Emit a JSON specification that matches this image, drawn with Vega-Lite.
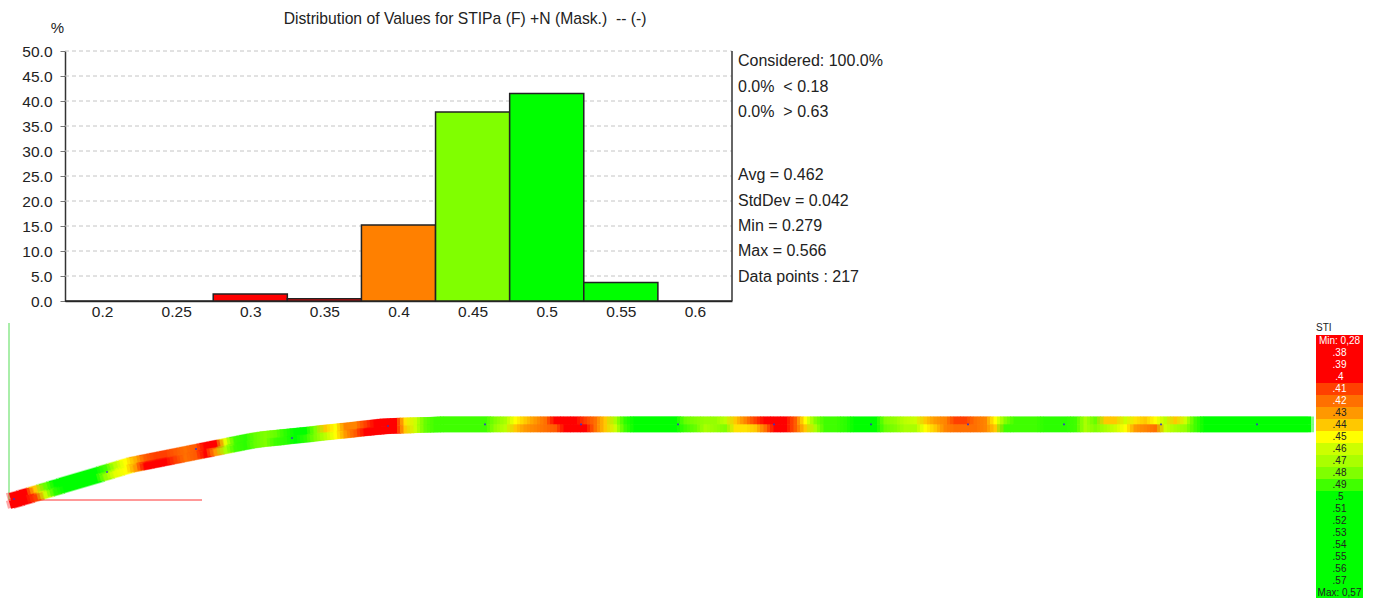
{"$schema":"https://vega.github.io/schema/vega-lite/v6.json","width":1376,"height":598,"autosize":{"type":"none"},"padding":0,"background":"white",
"title":{"text":"Distribution of Values for STIPa (F) +N (Mask.)\u00a0\u00a0-- (-)","anchor":"start","align":"center","frame":"group","dx":465,"dy":35,"offset":0,"baseline":"middle","font":"Liberation Sans","fontSize":15.7,"fontWeight":"normal","color":"#222"},
"config":{"view":{"stroke":null},"text":{"font":"Liberation Sans"}},
"datasets":{
"hist":[{"bin":"0.2","from":0.175,"to":0.225,"pct":0},{"bin":"0.25","from":0.225,"to":0.275,"pct":0},{"bin":"0.3","from":0.275,"to":0.325,"pct":1.38},{"bin":"0.35","from":0.325,"to":0.375,"pct":0.46},{"bin":"0.4","from":0.375,"to":0.425,"pct":15.2},{"bin":"0.45","from":0.425,"to":0.475,"pct":37.8},{"bin":"0.5","from":0.475,"to":0.525,"pct":41.5},{"bin":"0.55","from":0.525,"to":0.575,"pct":3.7},{"bin":"0.6","from":0.575,"to":0.625,"pct":0}],
"grid":[{"v":5},{"v":10},{"v":15},{"v":20},{"v":25},{"v":30},{"v":35},{"v":40},{"v":45},{"v":50}],
"notes":[{"t":"Considered: 100.0%","v":48},{"t":"0.0%\u00a0\u00a0< 0.18","v":42.8},{"t":"0.0%\u00a0\u00a0> 0.63","v":37.8},{"t":"Avg = 0.462","v":25.2},{"t":"StdDev = 0.042","v":20},{"t":"Min = 0.279","v":15},{"t":"Max = 0.566","v":10},{"t":"Data points : 217","v":4.8}],
"strip":[
{"x0":0.5,"y0":5.04,"x1":1.05,"y1":5.19,"sti":0.38},{"x0":0.5,"y0":4.66,"x1":1.05,"y1":4.81,"sti":0.38},
{"x0":1,"y0":5.19,"x1":1.55,"y1":5.34,"sti":0.39},{"x0":1,"y0":4.81,"x1":1.55,"y1":4.96,"sti":0.38},
{"x0":1.5,"y0":5.34,"x1":2.05,"y1":5.49,"sti":0.44},{"x0":1.5,"y0":4.96,"x1":2.05,"y1":5.11,"sti":0.41},
{"x0":2,"y0":5.49,"x1":2.55,"y1":5.64,"sti":0.485},{"x0":2,"y0":5.11,"x1":2.55,"y1":5.26,"sti":0.46},
{"x0":2.5,"y0":5.64,"x1":3.05,"y1":5.79,"sti":0.5},{"x0":2.5,"y0":5.26,"x1":3.05,"y1":5.41,"sti":0.495},
{"x0":3,"y0":5.79,"x1":5.05,"y1":6.39,"sti":0.51},{"x0":3,"y0":5.41,"x1":5.05,"y1":6.01,"sti":0.51},
{"x0":5,"y0":6.39,"x1":5.55,"y1":6.54,"sti":0.49},{"x0":5,"y0":6.01,"x1":5.55,"y1":6.16,"sti":0.475},
{"x0":5.5,"y0":6.54,"x1":6.05,"y1":6.69,"sti":0.465},{"x0":5.5,"y0":6.16,"x1":6.05,"y1":6.31,"sti":0.455},
{"x0":6,"y0":6.69,"x1":6.55,"y1":6.84,"sti":0.45},{"x0":6,"y0":6.31,"x1":6.55,"y1":6.46,"sti":0.45},
{"x0":6.5,"y0":6.84,"x1":7.05,"y1":6.94,"sti":0.435},{"x0":6.5,"y0":6.46,"x1":7.05,"y1":6.56,"sti":0.43},
{"x0":7,"y0":6.94,"x1":7.55,"y1":7.04,"sti":0.415},{"x0":7,"y0":6.56,"x1":7.55,"y1":6.66,"sti":0.4},
{"x0":7.5,"y0":7.04,"x1":8.05,"y1":7.14,"sti":0.41},{"x0":7.5,"y0":6.66,"x1":8.05,"y1":6.76,"sti":0.39},
{"x0":8,"y0":7.14,"x1":8.55,"y1":7.24,"sti":0.41},{"x0":8,"y0":6.76,"x1":8.55,"y1":6.86,"sti":0.39},
{"x0":8.5,"y0":7.24,"x1":9.05,"y1":7.34,"sti":0.415},{"x0":8.5,"y0":6.86,"x1":9.05,"y1":6.96,"sti":0.41},
{"x0":9,"y0":7.34,"x1":9.55,"y1":7.44,"sti":0.42},{"x0":9,"y0":6.96,"x1":9.55,"y1":7.06,"sti":0.42},
{"x0":9.5,"y0":7.44,"x1":10.05,"y1":7.54,"sti":0.415},{"x0":9.5,"y0":7.06,"x1":10.05,"y1":7.16,"sti":0.415},
{"x0":10,"y0":7.54,"x1":10.55,"y1":7.64,"sti":0.39},{"x0":10,"y0":7.16,"x1":10.55,"y1":7.26,"sti":0.4},
{"x0":10.5,"y0":7.64,"x1":11.05,"y1":7.74,"sti":0.39},{"x0":10.5,"y0":7.26,"x1":11.05,"y1":7.36,"sti":0.43},
{"x0":11,"y0":7.74,"x1":11.55,"y1":7.84,"sti":0.455},{"x0":11,"y0":7.36,"x1":11.55,"y1":7.46,"sti":0.47},
{"x0":11.5,"y0":7.84,"x1":12.05,"y1":7.94,"sti":0.49},{"x0":11.5,"y0":7.46,"x1":12.05,"y1":7.56,"sti":0.49},
{"x0":12,"y0":7.94,"x1":12.55,"y1":8.04,"sti":0.495},{"x0":12,"y0":7.56,"x1":12.55,"y1":7.66,"sti":0.495},
{"x0":12.5,"y0":8.04,"x1":13.05,"y1":8.12,"sti":0.485},{"x0":12.5,"y0":7.66,"x1":13.05,"y1":7.74,"sti":0.485},
{"x0":13,"y0":8.12,"x1":13.55,"y1":8.17,"sti":0.48},{"x0":13,"y0":7.74,"x1":13.55,"y1":7.79,"sti":0.48},
{"x0":13.5,"y0":8.17,"x1":14.05,"y1":8.22,"sti":0.485},{"x0":13.5,"y0":7.79,"x1":14.05,"y1":7.84,"sti":0.49},
{"x0":14,"y0":8.22,"x1":14.55,"y1":8.28,"sti":0.495},{"x0":14,"y0":7.84,"x1":14.55,"y1":7.9,"sti":0.495},
{"x0":14.5,"y0":8.28,"x1":15.05,"y1":8.33,"sti":0.5},{"x0":14.5,"y0":7.9,"x1":15.05,"y1":7.95,"sti":0.5},
{"x0":15,"y0":8.33,"x1":15.55,"y1":8.38,"sti":0.5},{"x0":15,"y0":7.95,"x1":15.55,"y1":8,"sti":0.495},
{"x0":15.5,"y0":8.38,"x1":16.05,"y1":8.44,"sti":0.48},{"x0":15.5,"y0":8,"x1":16.05,"y1":8.06,"sti":0.48},
{"x0":16,"y0":8.44,"x1":16.55,"y1":8.49,"sti":0.44},{"x0":16,"y0":8.06,"x1":16.55,"y1":8.11,"sti":0.465},
{"x0":16.5,"y0":8.49,"x1":17.05,"y1":8.54,"sti":0.45},{"x0":16.5,"y0":8.11,"x1":17.05,"y1":8.16,"sti":0.45},
{"x0":17,"y0":8.54,"x1":17.55,"y1":8.59,"sti":0.425},{"x0":17,"y0":8.16,"x1":17.55,"y1":8.21,"sti":0.43},
{"x0":17.5,"y0":8.59,"x1":18.05,"y1":8.65,"sti":0.425},{"x0":17.5,"y0":8.21,"x1":18.05,"y1":8.27,"sti":0.415},
{"x0":18,"y0":8.65,"x1":18.55,"y1":8.7,"sti":0.41},{"x0":18,"y0":8.27,"x1":18.55,"y1":8.32,"sti":0.4},
{"x0":18.5,"y0":8.7,"x1":19.05,"y1":8.76,"sti":0.4},{"x0":18.5,"y0":8.32,"x1":19.05,"y1":8.38,"sti":0.39},
{"x0":19,"y0":8.76,"x1":19.55,"y1":8.79,"sti":0.39},{"x0":19,"y0":8.38,"x1":19.55,"y1":8.41,"sti":0.39},
{"x0":19.5,"y0":8.79,"x1":20.05,"y1":8.81,"sti":0.39},{"x0":19.5,"y0":8.41,"x1":20.05,"y1":8.43,"sti":0.4},
{"x0":20,"y0":8.81,"x1":20.55,"y1":8.82,"sti":0.445},{"x0":20,"y0":8.43,"x1":20.55,"y1":8.44,"sti":0.44},
{"x0":20.5,"y0":8.82,"x1":21.05,"y1":8.84,"sti":0.46},{"x0":20.5,"y0":8.44,"x1":21.05,"y1":8.46,"sti":0.46},
{"x0":21,"y0":8.84,"x1":21.55,"y1":8.85,"sti":0.485},{"x0":21,"y0":8.46,"x1":21.55,"y1":8.47,"sti":0.485},
{"x0":21.5,"y0":8.85,"x1":22.05,"y1":8.87,"sti":0.49},{"x0":21.5,"y0":8.47,"x1":22.05,"y1":8.49,"sti":0.49},
{"x0":22,"y0":8.87,"x1":24.55,"y1":8.87,"sti":0.49},{"x0":22,"y0":8.49,"x1":24.55,"y1":8.49,"sti":0.49},
{"x0":24.5,"y0":8.87,"x1":25.05,"y1":8.87,"sti":0.48},{"x0":24.5,"y0":8.49,"x1":25.05,"y1":8.49,"sti":0.475},
{"x0":25,"y0":8.87,"x1":25.55,"y1":8.87,"sti":0.47},{"x0":25,"y0":8.49,"x1":25.55,"y1":8.49,"sti":0.465},
{"x0":25.5,"y0":8.87,"x1":26.05,"y1":8.87,"sti":0.45},{"x0":25.5,"y0":8.49,"x1":26.05,"y1":8.49,"sti":0.44},
{"x0":26,"y0":8.87,"x1":26.55,"y1":8.87,"sti":0.44},{"x0":26,"y0":8.49,"x1":26.55,"y1":8.49,"sti":0.43},
{"x0":26.5,"y0":8.87,"x1":27.05,"y1":8.87,"sti":0.43},{"x0":26.5,"y0":8.49,"x1":27.05,"y1":8.49,"sti":0.425},
{"x0":27,"y0":8.87,"x1":27.55,"y1":8.87,"sti":0.42},{"x0":27,"y0":8.49,"x1":27.55,"y1":8.49,"sti":0.42},
{"x0":27.5,"y0":8.87,"x1":28.05,"y1":8.87,"sti":0.4},{"x0":27.5,"y0":8.49,"x1":28.05,"y1":8.49,"sti":0.415},
{"x0":28,"y0":8.87,"x1":28.55,"y1":8.87,"sti":0.4},{"x0":28,"y0":8.49,"x1":28.55,"y1":8.49,"sti":0.395},
{"x0":28.5,"y0":8.87,"x1":29.05,"y1":8.87,"sti":0.4},{"x0":28.5,"y0":8.49,"x1":29.05,"y1":8.49,"sti":0.39},
{"x0":29,"y0":8.87,"x1":29.55,"y1":8.87,"sti":0.41},{"x0":29,"y0":8.49,"x1":29.55,"y1":8.49,"sti":0.39},
{"x0":29.5,"y0":8.87,"x1":30.05,"y1":8.87,"sti":0.42},{"x0":29.5,"y0":8.49,"x1":30.05,"y1":8.49,"sti":0.42},
{"x0":30,"y0":8.87,"x1":30.55,"y1":8.87,"sti":0.44},{"x0":30,"y0":8.49,"x1":30.55,"y1":8.49,"sti":0.44},
{"x0":30.5,"y0":8.87,"x1":31.05,"y1":8.87,"sti":0.47},{"x0":30.5,"y0":8.49,"x1":31.05,"y1":8.49,"sti":0.46},
{"x0":31,"y0":8.87,"x1":31.55,"y1":8.87,"sti":0.495},{"x0":31,"y0":8.49,"x1":31.55,"y1":8.49,"sti":0.49},
{"x0":31.5,"y0":8.87,"x1":34.05,"y1":8.87,"sti":0.5},{"x0":31.5,"y0":8.49,"x1":34.05,"y1":8.49,"sti":0.5},
{"x0":34,"y0":8.87,"x1":34.55,"y1":8.87,"sti":0.485},{"x0":34,"y0":8.49,"x1":34.55,"y1":8.49,"sti":0.49},
{"x0":34.5,"y0":8.87,"x1":35.05,"y1":8.87,"sti":0.48},{"x0":34.5,"y0":8.49,"x1":35.05,"y1":8.49,"sti":0.485},
{"x0":35,"y0":8.87,"x1":35.55,"y1":8.87,"sti":0.475},{"x0":35,"y0":8.49,"x1":35.55,"y1":8.49,"sti":0.47},
{"x0":35.5,"y0":8.87,"x1":36.05,"y1":8.87,"sti":0.475},{"x0":35.5,"y0":8.49,"x1":36.05,"y1":8.49,"sti":0.475},
{"x0":36,"y0":8.87,"x1":36.55,"y1":8.87,"sti":0.465},{"x0":36,"y0":8.49,"x1":36.55,"y1":8.49,"sti":0.48},
{"x0":36.5,"y0":8.87,"x1":37.05,"y1":8.87,"sti":0.44},{"x0":36.5,"y0":8.49,"x1":37.05,"y1":8.49,"sti":0.445},
{"x0":37,"y0":8.87,"x1":37.55,"y1":8.87,"sti":0.425},{"x0":37,"y0":8.49,"x1":37.55,"y1":8.49,"sti":0.445},
{"x0":37.5,"y0":8.87,"x1":38.05,"y1":8.87,"sti":0.41},{"x0":37.5,"y0":8.49,"x1":38.05,"y1":8.49,"sti":0.44},
{"x0":38,"y0":8.87,"x1":38.55,"y1":8.87,"sti":0.39},{"x0":38,"y0":8.49,"x1":38.55,"y1":8.49,"sti":0.42},
{"x0":38.5,"y0":8.87,"x1":39.05,"y1":8.87,"sti":0.4},{"x0":38.5,"y0":8.49,"x1":39.05,"y1":8.49,"sti":0.39},
{"x0":39,"y0":8.87,"x1":39.55,"y1":8.87,"sti":0.4},{"x0":39,"y0":8.49,"x1":39.55,"y1":8.49,"sti":0.4},
{"x0":39.5,"y0":8.87,"x1":40.05,"y1":8.87,"sti":0.415},{"x0":39.5,"y0":8.49,"x1":40.05,"y1":8.49,"sti":0.415},
{"x0":40,"y0":8.87,"x1":40.55,"y1":8.87,"sti":0.45},{"x0":40,"y0":8.49,"x1":40.55,"y1":8.49,"sti":0.44},
{"x0":40.5,"y0":8.87,"x1":41.05,"y1":8.87,"sti":0.48},{"x0":40.5,"y0":8.49,"x1":41.05,"y1":8.49,"sti":0.47},
{"x0":41,"y0":8.87,"x1":42.05,"y1":8.87,"sti":0.49},{"x0":41,"y0":8.49,"x1":42.05,"y1":8.49,"sti":0.49},
{"x0":42,"y0":8.87,"x1":42.55,"y1":8.87,"sti":0.495},{"x0":42,"y0":8.49,"x1":42.55,"y1":8.49,"sti":0.495},
{"x0":42.5,"y0":8.87,"x1":44.05,"y1":8.87,"sti":0.5},{"x0":42.5,"y0":8.49,"x1":44.05,"y1":8.49,"sti":0.5},
{"x0":44,"y0":8.87,"x1":44.55,"y1":8.87,"sti":0.48},{"x0":44,"y0":8.49,"x1":44.55,"y1":8.49,"sti":0.485},
{"x0":44.5,"y0":8.87,"x1":45.05,"y1":8.87,"sti":0.475},{"x0":44.5,"y0":8.49,"x1":45.05,"y1":8.49,"sti":0.48},
{"x0":45,"y0":8.87,"x1":45.55,"y1":8.87,"sti":0.465},{"x0":45,"y0":8.49,"x1":45.55,"y1":8.49,"sti":0.47},
{"x0":45.5,"y0":8.87,"x1":46.05,"y1":8.87,"sti":0.46},{"x0":45.5,"y0":8.49,"x1":46.05,"y1":8.49,"sti":0.47},
{"x0":46,"y0":8.87,"x1":46.55,"y1":8.87,"sti":0.44},{"x0":46,"y0":8.49,"x1":46.55,"y1":8.49,"sti":0.45},
{"x0":46.5,"y0":8.87,"x1":47.05,"y1":8.87,"sti":0.43},{"x0":46.5,"y0":8.49,"x1":47.05,"y1":8.49,"sti":0.44},
{"x0":47,"y0":8.87,"x1":47.55,"y1":8.87,"sti":0.425},{"x0":47,"y0":8.49,"x1":47.55,"y1":8.49,"sti":0.425},
{"x0":47.5,"y0":8.87,"x1":48.05,"y1":8.87,"sti":0.41},{"x0":47.5,"y0":8.49,"x1":48.05,"y1":8.49,"sti":0.42},
{"x0":48,"y0":8.87,"x1":48.55,"y1":8.87,"sti":0.41},{"x0":48,"y0":8.49,"x1":48.55,"y1":8.49,"sti":0.42},
{"x0":48.5,"y0":8.87,"x1":49.05,"y1":8.87,"sti":0.42},{"x0":48.5,"y0":8.49,"x1":49.05,"y1":8.49,"sti":0.42},
{"x0":49,"y0":8.87,"x1":49.55,"y1":8.87,"sti":0.425},{"x0":49,"y0":8.49,"x1":49.55,"y1":8.49,"sti":0.425},
{"x0":49.5,"y0":8.87,"x1":50.05,"y1":8.87,"sti":0.45},{"x0":49.5,"y0":8.49,"x1":50.05,"y1":8.49,"sti":0.44},
{"x0":50,"y0":8.87,"x1":50.55,"y1":8.87,"sti":0.48},{"x0":50,"y0":8.49,"x1":50.55,"y1":8.49,"sti":0.49},
{"x0":50.5,"y0":8.87,"x1":52.05,"y1":8.87,"sti":0.49},{"x0":50.5,"y0":8.49,"x1":52.05,"y1":8.49,"sti":0.49},
{"x0":52,"y0":8.87,"x1":53.55,"y1":8.87,"sti":0.495},{"x0":52,"y0":8.49,"x1":53.55,"y1":8.49,"sti":0.495},
{"x0":53.5,"y0":8.87,"x1":54.05,"y1":8.87,"sti":0.49},{"x0":53.5,"y0":8.49,"x1":54.05,"y1":8.49,"sti":0.49},
{"x0":54,"y0":8.87,"x1":54.55,"y1":8.87,"sti":0.47},{"x0":54,"y0":8.49,"x1":54.55,"y1":8.49,"sti":0.47},
{"x0":54.5,"y0":8.87,"x1":55.05,"y1":8.87,"sti":0.485},{"x0":54.5,"y0":8.49,"x1":55.05,"y1":8.49,"sti":0.48},
{"x0":55,"y0":8.87,"x1":55.55,"y1":8.87,"sti":0.44},{"x0":55,"y0":8.49,"x1":55.55,"y1":8.49,"sti":0.47},
{"x0":55.5,"y0":8.87,"x1":56.05,"y1":8.87,"sti":0.44},{"x0":55.5,"y0":8.49,"x1":56.05,"y1":8.49,"sti":0.46},
{"x0":56,"y0":8.87,"x1":56.55,"y1":8.87,"sti":0.46},{"x0":56,"y0":8.49,"x1":56.55,"y1":8.49,"sti":0.45},
{"x0":56.5,"y0":8.87,"x1":57.05,"y1":8.87,"sti":0.445},{"x0":56.5,"y0":8.49,"x1":57.05,"y1":8.49,"sti":0.43},
{"x0":57,"y0":8.87,"x1":57.55,"y1":8.87,"sti":0.44},{"x0":57,"y0":8.49,"x1":57.55,"y1":8.49,"sti":0.425},
{"x0":57.5,"y0":8.87,"x1":58.05,"y1":8.87,"sti":0.45},{"x0":57.5,"y0":8.49,"x1":58.05,"y1":8.49,"sti":0.42},
{"x0":58,"y0":8.87,"x1":58.55,"y1":8.87,"sti":0.465},{"x0":58,"y0":8.49,"x1":58.55,"y1":8.49,"sti":0.46},
{"x0":58.5,"y0":8.87,"x1":59.05,"y1":8.87,"sti":0.44},{"x0":58.5,"y0":8.49,"x1":59.05,"y1":8.49,"sti":0.47},
{"x0":59,"y0":8.87,"x1":59.55,"y1":8.87,"sti":0.46},{"x0":59,"y0":8.49,"x1":59.55,"y1":8.49,"sti":0.475},
{"x0":59.5,"y0":8.87,"x1":60.05,"y1":8.87,"sti":0.49},{"x0":59.5,"y0":8.49,"x1":60.05,"y1":8.49,"sti":0.49},
{"x0":60,"y0":8.87,"x1":65.55,"y1":8.87,"sti":0.5},{"x0":60,"y0":8.49,"x1":65.55,"y1":8.49,"sti":0.5}],
"frame":[{"x0":0.45,"y0":13.75,"x1":0.45,"y1":4.9,"c":"z"},{"x0":0.45,"y0":4.9,"x1":10.1,"y1":4.9,"c":"x"}],
"nodes":[{"x":0.7,"y":4.95},{"x":5.35,"y":6.3},{"x":9.8,"y":7.45},{"x":14.6,"y":8},{"x":19.4,"y":8.6},{"x":24.25,"y":8.68},{"x":29.05,"y":8.68},{"x":33.9,"y":8.68},{"x":38.7,"y":8.68},{"x":43.55,"y":8.68},{"x":48.4,"y":8.68},{"x":53.2,"y":8.68},{"x":58.05,"y":8.68},{"x":62.85,"y":8.68}],
"legend":[{"label":"Min: 0,28","sti":0.28},{"label":".38","sti":0.38},{"label":".39","sti":0.39},{"label":".4","sti":0.4},{"label":".41","sti":0.41},{"label":".42","sti":0.42},{"label":".43","sti":0.43},{"label":".44","sti":0.44},{"label":".45","sti":0.45},{"label":".46","sti":0.46},{"label":".47","sti":0.47},{"label":".48","sti":0.48},{"label":".49","sti":0.49},{"label":".5","sti":0.5},{"label":".51","sti":0.51},{"label":".52","sti":0.52},{"label":".53","sti":0.53},{"label":".54","sti":0.54},{"label":".55","sti":0.55},{"label":".56","sti":0.56},{"label":".57","sti":0.57},{"label":"Max: 0,57","sti":0.575}]
},
"layer":[
{"layer":[
{"data":{"name":"grid"},"mark":{"type":"rule","color":"#c4c4c4","strokeDash":[4,3],"strokeWidth":1},
"encoding":{"x":{"datum":0.175,"type":"quantitative","scale":{"domain":[0.175,0.625],"range":[65,732],"nice":false,"zero":false},"axis":{"orient":"bottom","offset":-297,"values":[0.2,0.25,0.3,0.35,0.4,0.45,0.5,0.55,0.6],"format":".2~f","title":null,"ticks":false,"grid":false,"domainColor":"#333","domainWidth":1.5,"labelFont":"Liberation Sans","labelFontSize":15.5,"labelColor":"#222","labelPadding":3}},"x2":{"datum":0.625},
"y":{"field":"v","type":"quantitative","scale":{"domain":[0,50],"range":[301,51],"nice":false},"axis":{"orient":"left","offset":-65,"values":[0,5,10,15,20,25,30,35,40,45,50],"format":".1f","title":"%","titleAngle":0,"titleX":-8,"titleY":27,"titleAlign":"center","titleBaseline":"middle","titleFont":"Liberation Sans","titleFontSize":15,"titleFontWeight":"normal","titleColor":"#222","grid":false,"tickSize":5,"tickColor":"#777","domainColor":"#333","domainWidth":1.5,"labelFont":"Liberation Sans","labelFontSize":15.5,"labelColor":"#222","labelPadding":8}}}},
{"data":{"name":"hist"},"mark":{"type":"rect","stroke":"#222","strokeWidth":1.5},
"encoding":{"x":{"field":"from","type":"quantitative"},"x2":{"field":"to"},"y":{"field":"pct","type":"quantitative"},"y2":{"datum":0},
"color":{"field":"bin","type":"nominal","legend":null,"scale":{"domain":["0.2","0.25","0.3","0.35","0.4","0.45","0.5","0.55","0.6"],"range":["#ff0000","#ff0000","#ff0000","#ff0000","#ff8000","#80ff00","#00ff00","#00ff00","#00ff00"]}}}},
{"data":{"values":[{"top":50,"base":0}]},"mark":{"type":"rule","color":"#333","strokeWidth":1.5},"encoding":{"x":{"datum":0.625,"type":"quantitative"},"y":{"field":"base","type":"quantitative"},"y2":{"field":"top"}}},
{"data":{"name":"notes"},"mark":{"type":"text","align":"left","baseline":"middle","font":"Liberation Sans","fontSize":16,"color":"#222","dx":6},"encoding":{"x":{"datum":0.625,"type":"quantitative"},"y":{"field":"v","type":"quantitative"},"text":{"field":"t"}}}
]},
{"layer":[
{"data":{"name":"frame"},"mark":{"type":"rule","strokeWidth":1},"encoding":{"x":{"field":"x0","type":"quantitative","scale":{"domain":[0,68.8],"range":[0,1376],"nice":false,"zero":false},"axis":null},"x2":{"field":"x1"},"y":{"field":"y0","type":"quantitative","scale":{"domain":[0,29.9],"range":[598,0],"nice":false,"zero":false},"axis":null},"y2":{"field":"y1"},"color":{"field":"c","type":"nominal","legend":null,"scale":{"domain":["z","x"],"range":["#55dd55","#ff3333"]}}}},
{"data":{"name":"strip"},"mark":{"type":"rule","strokeWidth":8},"encoding":{"x":{"field":"x0","type":"quantitative"},"x2":{"field":"x1"},"y":{"field":"y0","type":"quantitative"},"y2":{"field":"y1"},"stroke":{"field":"sti","type":"quantitative","legend":null,"scale":{"domain":[0.28,0.4,0.41,0.42,0.43,0.44,0.45,0.46,0.47,0.48,0.49,0.5,0.6],"range":["#ff0000","#ff0000","#ff4000","#ff7000","#ff9800","#ffc800","#ffff00","#ccff00","#aaff00","#80ff00","#40ff00","#00ff00","#00ff00"]}}}},
{"data":{"name":"strip"},"mark":{"type":"rule","strokeWidth":8,"opacity":0.5,"xOffset":3,"x2Offset":3},"encoding":{"x":{"field":"x0","type":"quantitative"},"x2":{"field":"x1"},"y":{"field":"y0","type":"quantitative"},"y2":{"field":"y1"},"stroke":{"field":"sti","type":"quantitative","legend":null}}},
{"data":{"name":"strip"},"mark":{"type":"rule","strokeWidth":8,"opacity":0.35,"xOffset":-3,"x2Offset":-3},"encoding":{"x":{"field":"x0","type":"quantitative"},"x2":{"field":"x1"},"y":{"field":"y0","type":"quantitative"},"y2":{"field":"y1"},"stroke":{"field":"sti","type":"quantitative","legend":null}}},
{"data":{"name":"nodes"},"mark":{"type":"point","shape":"square","filled":true,"size":3,"color":"#3333cc","opacity":1},"encoding":{"x":{"field":"x","type":"quantitative"},"y":{"field":"y","type":"quantitative"}}},
{"data":{"values":[{"name":"STI","x":65.8,"y":13.5}]},"mark":{"type":"text","align":"left","baseline":"middle","fontSize":10,"color":"#222"},"encoding":{"x":{"field":"x","type":"quantitative"},"y":{"field":"y","type":"quantitative"},"text":{"field":"name"}}}
]},
{"data":{"name":"legend"},"layer":[
{"mark":{"type":"rect"},"encoding":{"x":{"datum":0,"type":"quantitative","scale":{"domain":[0,1],"range":[1316,1363],"nice":false},"axis":null},"x2":{"datum":1},"y":{"field":"label","type":"ordinal","sort":null,"scale":{"range":[335,599],"paddingInner":0,"paddingOuter":0},"axis":null},"color":{"field":"sti","type":"quantitative","legend":null,"scale":{"domain":[0.28,0.4,0.41,0.42,0.43,0.44,0.45,0.46,0.47,0.48,0.49,0.5,0.6],"range":["#ff0000","#ff0000","#ff4000","#ff7000","#ff9800","#ffc800","#ffff00","#ccff00","#aaff00","#80ff00","#40ff00","#00ff00","#00ff00"]}}}},
{"mark":{"type":"text","baseline":"middle","fontSize":10},"encoding":{"x":{"datum":0.5,"type":"quantitative"},"y":{"field":"label","type":"ordinal","sort":null},"text":{"field":"label"},"color":{"condition":{"test":"datum.sti<=0.42","value":"#ffffff"},"value":"#222222"}}}
]}
],
"resolve":{"scale":{"x":"independent","y":"independent","color":"independent","stroke":"independent"},"axis":{"x":"independent","y":"independent"}}}
